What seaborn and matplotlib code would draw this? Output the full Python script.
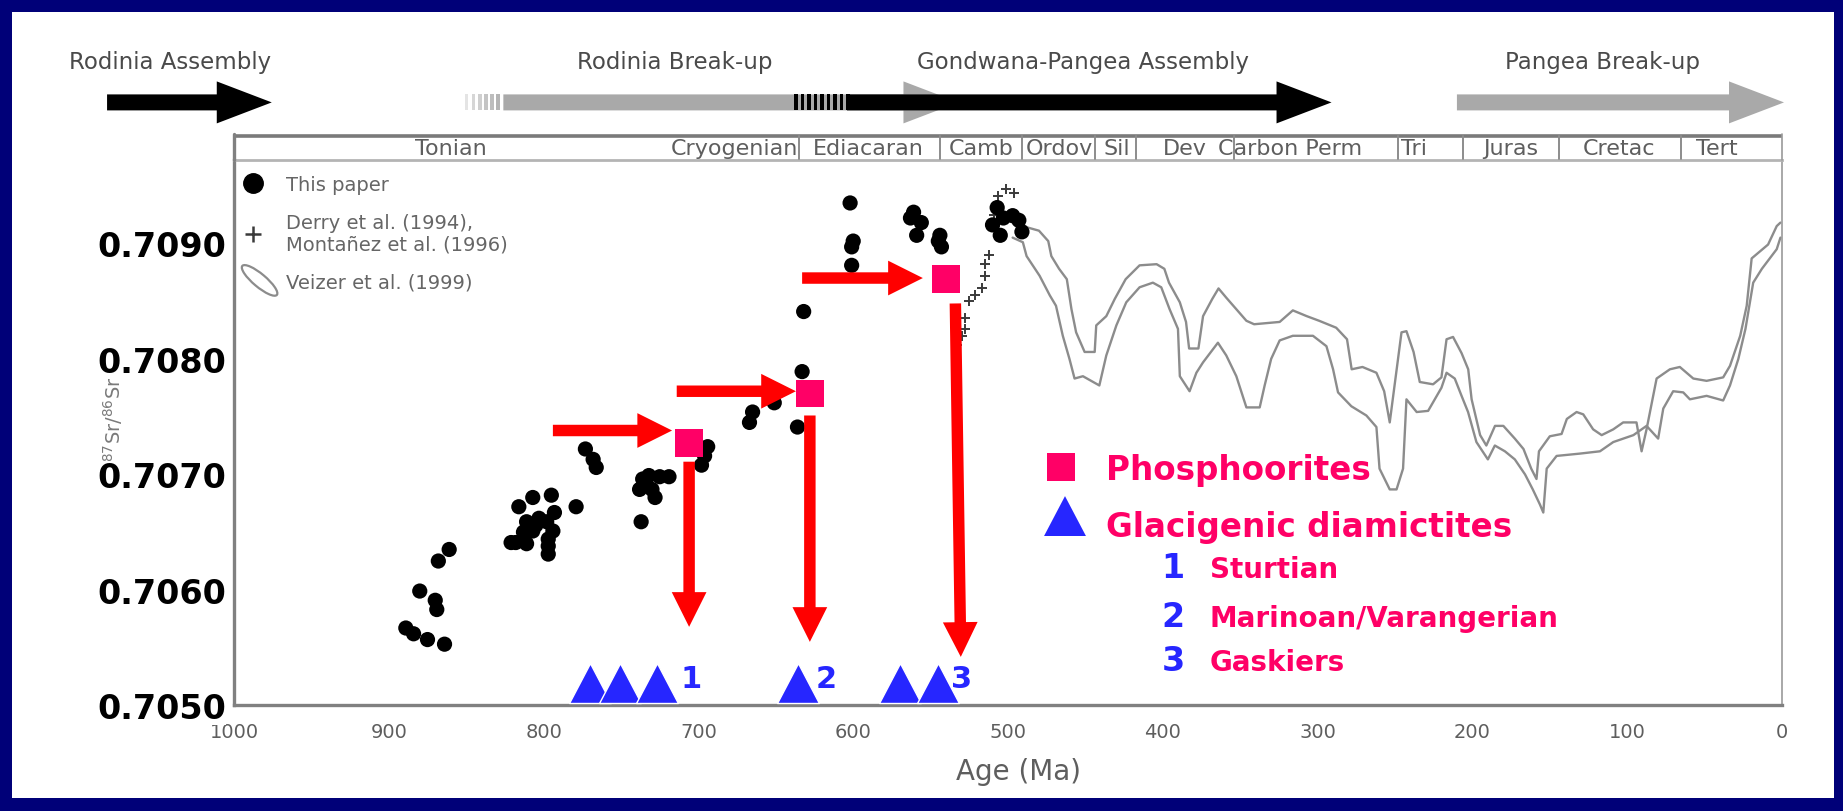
import matplotlib
matplotlib.use("Agg")
import numpy as np
import pandas as pd
import matplotlib.pyplot as plt
import seaborn as sns
from matplotlib.patches import Rectangle, Ellipse, FancyArrow
from matplotlib.lines import Line2D
from matplotlib.legend_handler import HandlerPatch
from matplotlib.path import Path
from matplotlib.ticker import MultipleLocator

# ---------------------------------------------------------------- data
# Sr isotope measurements, this paper (age in Ma, 87Sr/86Sr)
paper_age = [889, 884, 875, 864, 880, 870, 869, 868, 861,
             821, 818, 816, 807, 803, 795, 793, 811, 805, 798, 813, 807, 794,
             811, 797, 797, 797, 779, 773, 768, 766,
             737, 736, 732, 725, 719, 738, 730, 728,
             698, 696, 694, 667, 665, 651, 636, 633, 632,
             602, 600, 601, 601, 563, 561, 556, 559, 545, 544, 543,
             507, 510, 505, 503, 497, 493, 491]
paper_sr = [0.70567, 0.70562, 0.70557, 0.70553, 0.70599, 0.70591, 0.70583, 0.70625, 0.70635,
            0.70641, 0.70641, 0.70672, 0.70680, 0.70662, 0.70682, 0.70667, 0.70659, 0.70656, 0.70659, 0.70650, 0.70651, 0.70651,
            0.70640, 0.70644, 0.70638, 0.70631, 0.70672, 0.70722, 0.70713, 0.70706,
            0.70659, 0.70696, 0.70699, 0.70698, 0.70698, 0.70687, 0.70687, 0.70680,
            0.70708, 0.70716, 0.70724, 0.70745, 0.70754, 0.70762, 0.70741, 0.70789, 0.70841,
            0.70935, 0.70902, 0.70897, 0.70881, 0.70922, 0.70927, 0.70918, 0.70907, 0.70902, 0.70907, 0.70897,
            0.70931, 0.70916, 0.70907, 0.70922, 0.70924, 0.70920, 0.70910]

# Derry et al. (1994), Montanez et al. (1996)
lit_age = [533, 530, 528, 528, 525, 521.5, 517, 515, 515, 512, 506.5, 501, 496, 509]
lit_sr = [0.70812, 0.70820, 0.70826, 0.70835, 0.70850, 0.70855, 0.70861, 0.70872,
          0.70882, 0.70890, 0.70941, 0.70947, 0.70944, 0.70925]

# Veizer et al. (1999) envelope, upper and lower bounding curves
veizer_hi_age = [497, 488, 480, 474, 472, 467, 462, 459, 456, 450.5, 444, 443, 436.5, 431, 424, 415,
                 404, 399, 396, 389, 385, 383, 377, 374, 368, 364, 359, 352.5, 346, 341, 324.5, 316,
                 307, 299, 288, 281, 278, 271, 262, 257, 253.4, 245.8, 242.6, 238, 234, 225.4, 220,
                 216.7, 212.5, 207, 202.7, 200.5, 195, 191, 185.4, 180, 172.6, 167, 162, 158.6, 157,
                 150, 142.4, 139, 132.7, 128.4, 122, 116.5, 109, 102.6, 94, 90.7, 87.5, 81, 72.4,
                 66, 57.3, 48.7, 38, 33.6, 27, 22.8, 19.6, 9, 3.4, 1]
veizer_hi_sr = [0.70922, 0.70914, 0.70911, 0.70902, 0.70889, 0.70878, 0.70869, 0.70843, 0.70823,
                0.70806, 0.70806, 0.70829, 0.70837, 0.70852, 0.70869, 0.70881, 0.70882, 0.70878,
                0.70866, 0.70849, 0.70832, 0.70809, 0.70809, 0.70837, 0.70852, 0.70861, 0.70853,
                0.70843, 0.70833, 0.70830, 0.70832, 0.70842, 0.70837, 0.70833, 0.70827, 0.70817,
                0.70791, 0.70793, 0.70788, 0.70772, 0.70745, 0.70823, 0.70824, 0.70806, 0.70780,
                0.70778, 0.70784, 0.70817, 0.70819, 0.70805, 0.70791, 0.70765, 0.70734, 0.70725,
                0.70742, 0.70742, 0.70731, 0.70722, 0.70705, 0.70696, 0.70720, 0.70733, 0.70735,
                0.70748, 0.70754, 0.70752, 0.70739, 0.70734, 0.70739, 0.70745, 0.70745, 0.70720,
                0.70739, 0.70783, 0.70791, 0.70793, 0.70783, 0.70781, 0.70784, 0.70794, 0.70820,
                0.70846, 0.70887, 0.70899, 0.70915, 0.70918]
veizer_lo_age = [497, 490.4, 488, 479.6, 473, 469, 464.6, 460.3, 457, 451.6, 441, 436.5, 430, 423.6,
                 415, 406.4, 401, 395.6, 390.2, 389, 382.7, 378.3, 374, 364.4, 359, 352.5, 346,
                 337.4, 334.2, 330, 324.5, 316, 303, 294.3, 290, 286.8, 278.2, 268.5, 262, 260,
                 253.4, 249, 244.8, 242.6, 236, 228.6, 220, 216.7, 211.4, 207, 202.8, 197.4, 190,
                 185.5, 179, 172.6, 166, 161, 156.4, 154.2, 152, 145.6, 130.6, 117.6, 109, 96, 87.5,
                 80, 76.7, 70.3, 63.8, 59.5, 48.7, 38, 33.6, 28.2, 23.6, 18.6, 13, 3.4, 1]
veizer_lo_sr = [0.70905, 0.70901, 0.70889, 0.70872, 0.70855, 0.70846, 0.70820, 0.70800, 0.70783,
                0.70785, 0.70777, 0.70803, 0.70829, 0.70849, 0.70862, 0.70866, 0.70862, 0.70843,
                0.70826, 0.70785, 0.70772, 0.70788, 0.70797, 0.70814, 0.70803, 0.70785, 0.70758,
                0.70758, 0.70777, 0.70800, 0.70816, 0.70820, 0.70820, 0.70811, 0.70791, 0.70771,
                0.70759, 0.70751, 0.70741, 0.70705, 0.70687, 0.70687, 0.70705, 0.70765, 0.70754,
                0.70755, 0.70775, 0.70788, 0.70783, 0.70768, 0.70754, 0.70728, 0.70713, 0.70725,
                0.70720, 0.70713, 0.70700, 0.70687, 0.70674, 0.70667, 0.70705, 0.70716, 0.70718,
                0.70720, 0.70728, 0.70734, 0.70742, 0.70731, 0.70757, 0.70772, 0.70771, 0.70765,
                0.70768, 0.70764, 0.70777, 0.70800, 0.70826, 0.70866, 0.70878, 0.70895, 0.70905]

# Phosphorite deposits
phos_age = [706, 628, 540]
phos_sr = [0.70727, 0.70770, 0.70869]

# Arrows pointing at the phosphorites and dropping to the glaciations
push_from_age = [794, 714, 633]
push_to_age = [717, 637, 555]
push_sr = [0.70738, 0.70772, 0.70870]
drop_top_age = [706, 628, 534]
drop_tip_age = [706, 628, 530.5]
drop_top_sr = [0.70711, 0.70751, 0.70848]
drop_tip_sr = [0.70568, 0.70555, 0.70542]

# Glacigenic diamictites
glacial_age = [770, 750.5, 726.6, 635.5, 569.5, 545.3]
glacial_sr = [0.70502] * 6
glacial_tag = ['1', '2', '3']
glacial_tag_age = [705, 617.6, 529.7]
glacial_tag_sr = [0.70516, 0.70516, 0.70516]
glacial_names = ['Sturtian', 'Marinoan/Varangerian', 'Gaskiers']

# Geological time scale
period_names = ['Tonian', 'Cryogenian', 'Ediacaran', 'Camb', 'Ordov', 'Sil', 'Dev',
                'Carbon Perm', 'Tri', 'Juras', 'Cretac', 'Tert']
period_label_age = [860, 677, 590, 517, 467, 430, 386, 318, 238, 175, 105, 42]
period_bounds = [635, 544, 491, 444, 417, 354, 248, 206, 144, 65]

# Supercontinent cycle
tect_names = ['Rodinia Assembly', 'Rodinia Break-up', 'Gondwana-Pangea Assembly', 'Pangea Break-up']
tect_label_age = [1041, 715, 451.5, 116]
tect_start = [1082, 826, 604, 210]
tect_end = [975.6, 532, 291, -1.3]
tect_color = ['black', '#a9a9a9', 'black', '#a9a9a9']

x_ticks = list(range(0, 1001, 100))
y_ticks = [0.7050, 0.7060, 0.7070, 0.7080, 0.7090]

# ---------------------------------------------------------------- style
sns.set_style("white")
plt.rcParams['font.family'] = ['DejaVu Sans']

NAVY = '#000078'
GREY_TXT = '#5e5e5e'
AXIS_GREY = '#808080'
RED = '#ff0000'
PINK = '#ff0066'
BLUE = '#2626ff'

W, H = 1843, 812
AX_L, AX_R, AX_T, AX_B = 234, 1782, 161, 706.4

fig = plt.figure(figsize=(W / 100, H / 100), dpi=100)
fig.patch.set_facecolor(NAVY)
fig.add_artist(Rectangle((12 / W, 13 / H), (1834 - 12) / W, (799 - 13) / H,
                         transform=fig.transFigure, facecolor='white',
                         edgecolor='none', zorder=-10))

ax = fig.add_axes([AX_L / W, 1 - AX_B / H, (AX_R - AX_L) / W, (AX_B - AX_T) / H])
ax_top = fig.add_axes([AX_L / W, 1 - AX_T / H, (AX_R - AX_L) / W, AX_T / H], sharex=ax)

# ---------------------------------------------------------------- main panel
veizer_hi = pd.DataFrame({'age': veizer_hi_age, 'sr': veizer_hi_sr})
veizer_lo = pd.DataFrame({'age': veizer_lo_age, 'sr': veizer_lo_sr})
for band in (veizer_hi, veizer_lo):
    sns.lineplot(data=band, x='age', y='sr', sort=False, estimator=None,
                 color='#8c8c8c', lw=1.7, ax=ax, zorder=2)

lit = pd.DataFrame({'age': lit_age, 'sr': lit_sr})
sns.scatterplot(data=lit, x='age', y='sr', marker='+', s=55, color='#3a3a3a',
                linewidth=1.4, ax=ax, zorder=3, legend=False)

paper = pd.DataFrame({'age': paper_age, 'sr': paper_sr})
sns.scatterplot(data=paper, x='age', y='sr', marker='o', s=120, color='black',
                edgecolor='none', ax=ax, zorder=3, legend=False)

arrow_kw = dict(arrowstyle='simple,head_length=1,head_width=1,tail_width=0.33',
                mutation_scale=25, color=RED, lw=0, shrinkA=0, shrinkB=0)
for a0, a1, s in zip(push_from_age, push_to_age, push_sr):
    ax.annotate('', xy=(a1, s), xytext=(a0, s), arrowprops=arrow_kw, zorder=5)
for a0, a1, s0, s1 in zip(drop_top_age, drop_tip_age, drop_top_sr, drop_tip_sr):
    ax.annotate('', xy=(a1, s1), xytext=(a0, s0), arrowprops=arrow_kw, zorder=5)

phos = pd.DataFrame({'age': phos_age, 'sr': phos_sr})
sns.scatterplot(data=phos, x='age', y='sr', marker='s', s=400, color=PINK,
                edgecolor='none', ax=ax, zorder=6, legend=False)

# triangle standing on its base at the anchor point
tri_marker = Path([(-1.05, 0), (1.05, 0), (0, 2.0), (-1.05, 0)],
                  [Path.MOVETO, Path.LINETO, Path.LINETO, Path.CLOSEPOLY])
ax.scatter(glacial_age, glacial_sr, marker=tri_marker, s=3300, color=BLUE,
           edgecolor='white', linewidth=1.0, zorder=6, clip_on=False)
for t, a, s in zip(glacial_tag, glacial_tag_age, glacial_tag_sr):
    ax.text(a, s, t, color=BLUE, fontsize=22, fontweight='bold',
            ha='center', va='baseline', zorder=7)

ax.set_xlim(1000, 0)
ax.set_ylim(0.7050, 0.709722)

ax.set_xticks(x_ticks, labels=[str(v) for v in x_ticks])
ax.xaxis.set_minor_locator(MultipleLocator(50))
ax.set_yticks(y_ticks, labels=[f'{v:.4f}' for v in y_ticks], fontsize=24,
              fontweight='bold', color='black',
              bbox=dict(facecolor='white', edgecolor='none', pad=0))
ax.yaxis.set_minor_locator(MultipleLocator(0.0005))
ax.tick_params(axis='both', which='both', direction='out', length=6, width=1.4,
               color=AXIS_GREY)
ax.tick_params(axis='x', labelsize=14, labelcolor=GREY_TXT, pad=6)
ax.tick_params(axis='y', pad=-0.5)

for side, col, lw in (('left', AXIS_GREY, 2.4), ('bottom', AXIS_GREY, 2.4),
                      ('right', '#9a9a9a', 1.2), ('top', '#b4b4b4', 2.0)):
    ax.spines[side].set_visible(True)
    ax.spines[side].set_color(col)
    ax.spines[side].set_linewidth(lw)

ax.set_ylabel('')
ax.set_xlabel('Age (Ma)', fontsize=20, color=GREY_TXT)
ax.xaxis.set_label_coords((1018 - AX_L) / (AX_R - AX_L), (AX_B - 772) / (AX_B - AX_T))
ax.xaxis.label.set_va('center')
# isotope-ratio label sits in the gap between the 0.7080 and 0.7070 tick labels
fig.text(113 / W, 1 - 419 / H, r'$^{87}$Sr/$^{86}$Sr', rotation=90, ha='center',
         va='center', fontsize=14, color='#7a7a7a', zorder=-5)


# legend for the literature data
class HandlerEllipse(HandlerPatch):
    def create_artists(self, legend, orig_handle, xdescent, ydescent, width,
                       height, fontsize, trans):
        center = (0.5 * width - xdescent + 5, 0.5 * height - ydescent)
        p = Ellipse(xy=center, width=1.45 * width, height=0.95 * height, angle=-40)
        self.update_prop(p, orig_handle, legend)
        p.set_transform(trans)
        return [p]


handles = [Line2D([], [], marker='o', ls='', color='black', ms=14),
           Line2D([], [], marker='+', ls='', color='#3a3a3a', ms=12, mew=1.8),
           Ellipse((0, 0), 1, 1, facecolor='white', edgecolor='#8c8c8c', lw=1.6)]
labels = ['This paper', 'Derry et al. (1994),\nMontañez et al. (1996)',
          'Veizer et al. (1999)']
ax.legend(handles, labels, handler_map={Ellipse: HandlerEllipse()},
          loc='upper left', bbox_to_anchor=(0.002, 0.972), frameon=False,
          fontsize=14, labelcolor='#666666', handlelength=1.6, handletextpad=0.9,
          labelspacing=0.95, borderaxespad=0, borderpad=0)


# key for the coloured symbols
def axx(px):
    return (px - AX_L) / (AX_R - AX_L)


def axy(py):
    return (AX_B - py) / (AX_B - AX_T)


ax.scatter([axx(1061)], [axy(468)], transform=ax.transAxes, marker='s', s=420,
           color=PINK, edgecolor='none', clip_on=False, zorder=6)
ax.scatter([axx(1065)], [axy(537)], transform=ax.transAxes, marker=tri_marker,
           s=3300, color=BLUE, edgecolor='none', clip_on=False, zorder=6)
ax.text(axx(1106), axy(480), 'Phosphoorites', transform=ax.transAxes, color=PINK,
        fontsize=23.5, fontweight='bold', va='baseline', ha='left')
ax.text(axx(1106), axy(536.7), 'Glacigenic diamictites', transform=ax.transAxes,
        color=PINK, fontsize=23.5, fontweight='bold', va='baseline', ha='left')
for t, name, py in zip(glacial_tag, glacial_names, [578, 627, 671]):
    ax.text(axx(1173), axy(py), t, transform=ax.transAxes, color=BLUE,
            fontsize=24, fontweight='bold', va='baseline', ha='center')
    ax.text(axx(1210), axy(py), name, transform=ax.transAxes, color=PINK,
            fontsize=20, fontweight='bold', va='baseline', ha='left')

# ---------------------------------------------------------------- time-scale strip and tectonic arrows
ax_top.set_ylim(AX_T, 0)          # y measured in pixels from the top edge
ax_top.axis('off')
ax_top.patch.set_alpha(0)

BAR_TOP, BAR_BOT = 135, 161
ax_top.plot([1000, 0], [BAR_TOP + 1.5, BAR_TOP + 1.5], color='#7a7a7a', lw=2.6,
            solid_capstyle='butt', clip_on=False)
ax_top.plot([1000, 1000], [BAR_TOP, BAR_BOT], color=AXIS_GREY, lw=2.4, clip_on=False)
ax_top.plot([0, 0], [BAR_TOP, BAR_BOT], color='#9a9a9a', lw=1.2, clip_on=False)
for b in period_bounds:
    ax_top.plot([b, b], [BAR_TOP + 2, BAR_BOT - 1], color='#8c8c8c', lw=1.4)
for name, a in zip(period_names, period_label_age):
    ax_top.text(a, 149, name, ha='center', va='center', fontsize=16, color=GREY_TXT)

ARROW_Y = 103.4
HEAD_LEN = 55 / 1.548
order = [1, 3, 0, 2]               # grey arrows first, black ones on top
for i in order:
    ax_top.add_patch(FancyArrow(tect_start[i], ARROW_Y, tect_end[i] - tect_start[i], 0,
                                width=16, head_width=42, head_length=HEAD_LEN,
                                length_includes_head=True, color=tect_color[i],
                                lw=0, clip_on=False, zorder=3 if tect_color[i] == 'black' else 2))
# faded start of the Rodinia break-up arrow
for a, c in zip([851, 846.5, 842.5, 838.5, 834.5, 830.5],
                ['#e4e4e4', '#d6d6d6', '#cfcfcf', '#c4c4c4', '#bdbdbd', '#b4b4b4']):
    ax_top.add_patch(Rectangle((a, ARROW_Y - 8), -2.4, 16, color=c, lw=0, clip_on=False))
# transition into the Gondwana-Pangea assembly arrow
for a in np.arange(638, 604, -4.2):
    ax_top.add_patch(Rectangle((a, ARROW_Y - 8), -2.2, 16, color='black', lw=0,
                               clip_on=False, zorder=3))
for name, a in zip(tect_names, tect_label_age):
    ax_top.text(a, 63, name, ha='center', va='center', fontsize=16.5,
                color='#4a4a4a', clip_on=False)

fig.savefig('out.png', dpi=100, facecolor=fig.get_facecolor())
